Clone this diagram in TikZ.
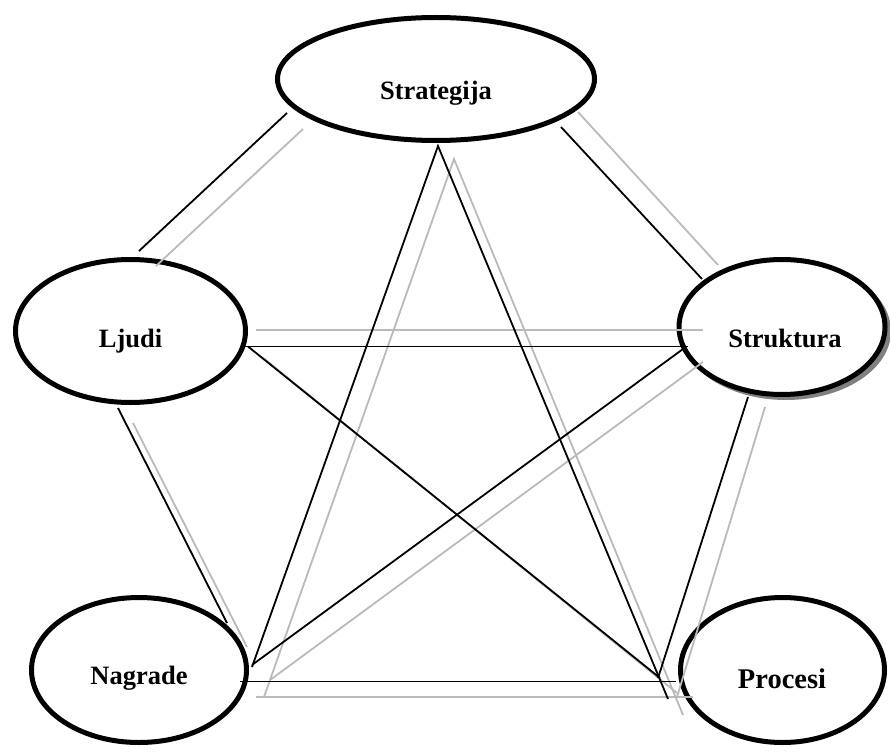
\documentclass[tikz,border=0pt]{standalone}
\usepackage{fontspec}
\setmainfont{Liberation Serif}
\usetikzlibrary{shapes.geometric}
\begin{document}
\begin{tikzpicture}[x=1pt,y=-1pt,
  ell/.style={ellipse,draw=black,line width=5pt,fill=white,inner sep=0pt},
  lbl/.style={anchor=base,inner sep=0pt,font=\fontsize{26.5}{30}\selectfont\bfseries},
  blk/.style={draw=black,line width=1.8pt},
  gry/.style={draw=black!27,line width=1.8pt}]
\useasboundingbox (0,0) rectangle (890,754);
% ellipses
\node[ell,minimum width=317pt,minimum height=123pt] (strat) at (436,79) {};
\node[ell,minimum width=230pt,minimum height=143pt] (ljudi) at (130.5,331) {};
\node[ell,minimum width=215pt,minimum height=145pt] (nagr) at (139,670) {};
\fill[black!50] (786,331) ellipse (105pt and 69pt);
\node[ell,minimum width=206pt,minimum height=135pt] (strukt) at (782,327) {};
\node[ell,minimum width=204pt,minimum height=145pt] (proc) at (782.5,670) {};
% labels
\node[lbl] (stratT) at (436,100) {Strategija};
\node[lbl] (ljudiT) at (130.5,347) {Ljudi};
\node[lbl] (nagrT) at (139,684) {Nagrade};
\node[lbl] (struktT) at (785,347) {Struktura};
\node[lbl,font=\fontsize{28.5}{32}\selectfont\bfseries] (procT) at (782,688) {Procesi};
% endpoints
\coordinate (b1a) at (287,113); \coordinate (b1b) at (139,251);
\coordinate (g1a) at (303,129); \coordinate (g1b) at (156,266);
\coordinate (b2a) at (561,127); \coordinate (b2b) at (702,279);
\coordinate (g2a) at (578,112); \coordinate (g2b) at (718,265);
\coordinate (apx) at (438,146); \coordinate (gapx) at (454,159);
\coordinate (b3b) at (252,667); \coordinate (g3b) at (264,697);
\coordinate (b4b) at (668,699); \coordinate (g4b) at (683,715);
\coordinate (b5a) at (240,346.5); \coordinate (b5b) at (688,346.5);
\coordinate (g5a) at (256,330); \coordinate (g5b) at (703,330);
\coordinate (b6a) at (248,346.5); \coordinate (b6b) at (660,678);
\coordinate (g6a) at (262,357); \coordinate (g6b) at (677,693);
\coordinate (b7a) at (118,408); \coordinate (b7b) at (227,623);
\coordinate (g7a) at (133,423); \coordinate (g7b) at (247,647);
\coordinate (b8a) at (683,349); \coordinate (b8b) at (252,665);
\coordinate (g8a) at (703,362); \coordinate (g8b) at (270,680);
\coordinate (b9a) at (748,397); \coordinate (b9b) at (658,678);
\coordinate (g9a) at (765,407); \coordinate (g9b) at (677,697);
\coordinate (b10a) at (240,681.5); \coordinate (b10b) at (676,681.5);
\coordinate (g10a) at (256,697); \coordinate (g10b) at (693,697);
% gray shadow lines
\draw[gry] (g1a) -- (g1b);
\draw[gry] (g2a) -- (g2b);
\draw[gry] (g3b) -- (gapx) -- (g4b);
\draw[gry] (g5a) -- (g5b);
\draw[gry] (g6a) -- (g6b);
\draw[gry] (g7a) -- (g7b);
\draw[gry] (g8a) -- (g8b);
\draw[gry] (g9a) -- (g9b);
\draw[gry] (g10a) -- (g10b);
% black lines
\draw[blk] (b1a) -- (b1b);
\draw[blk] (b2a) -- (b2b);
\draw[blk,line join=miter] (b3b) -- (apx) -- (b4b);
\draw[blk] (b5a) -- (b5b);
\draw[blk] (b6a) -- (b6b);
\draw[blk] (b7a) -- (b7b);
\draw[blk] (b8a) -- (b8b);
\draw[blk] (b9a) -- (b9b);
\draw[blk] (b10a) -- (b10b);
\end{tikzpicture}
\end{document}
